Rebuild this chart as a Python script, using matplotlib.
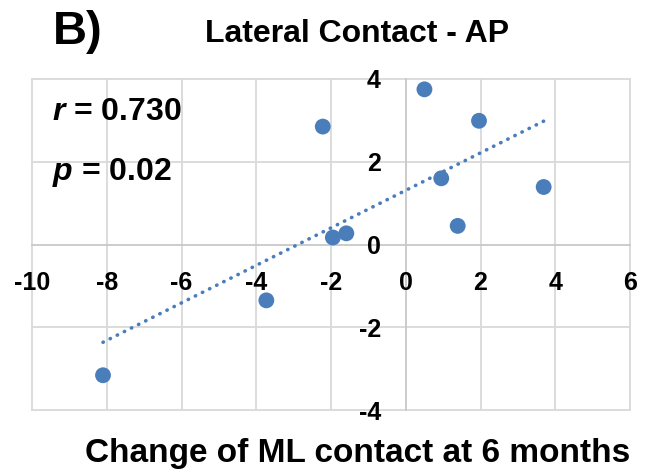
import matplotlib
matplotlib.use("Agg")
import matplotlib.pyplot as plt
import numpy as np

# Change of ML contact (x) vs lateral contact AP change (y)
ml_change = [-8.10, -3.73, -2.22, -1.95, -1.59, 0.50, 1.96, 0.95, 1.39, 3.69]
ap_change = [-3.16, -1.35, 2.85, 0.17, 0.27, 3.75, 2.99, 1.60, 0.45, 1.39]

x_ticks = [-10, -8, -6, -4, -2, 0, 2, 4, 6]
y_ticks = [-4, -2, 0, 2, 4]
stats = ["0.730", "0.02"]

plt.rcParams["font.family"] = ["Liberation Sans", "DejaVu Sans"]
plt.rcParams["mathtext.fontset"] = "custom"
plt.rcParams["mathtext.it"] = "Liberation Sans:bold:italic"
plt.rcParams["mathtext.rm"] = "Liberation Sans:bold"

blue = "#4a7ebb"
grid_col = "#d9d9d9"
axis_col = "#c8c8c8"

fig = plt.figure(figsize=(6.52, 4.75), dpi=100)
fig.patch.set_facecolor("white")
ax = fig.add_axes([32 / 652, 1 - 410 / 475, 598 / 652, 331 / 475])

ax.set_xlim(x_ticks[0], x_ticks[-1])
ax.set_ylim(y_ticks[0], y_ticks[-1])

# gridlines, including the outer border lines
for xv in x_ticks:
    if xv != 0:
        ax.axvline(xv, color=grid_col, lw=1.3, zorder=0, clip_on=False)
for yv in y_ticks:
    if yv != 0:
        ax.axhline(yv, color=grid_col, lw=1.3, zorder=0, clip_on=False)

for side in ["top", "right"]:
    ax.spines[side].set_visible(False)
ax.spines["left"].set_position(("data", 0))
ax.spines["bottom"].set_position(("data", 0))
for side in ["left", "bottom"]:
    ax.spines[side].set_color(axis_col)
    ax.spines[side].set_linewidth(1.3)
    ax.spines[side].set_zorder(0.5)

ax.set_xticks(x_ticks)
ax.set_yticks(y_ticks)
ax.tick_params(axis="both", length=0, labelsize=18)
ax.tick_params(axis="x", pad=19)
ax.tick_params(axis="y", pad=18)
ax.set_xticklabels([str(v) for v in x_ticks], fontweight="bold")
ax.set_yticklabels([str(v) for v in y_ticks], fontweight="bold")

# linear trendline over the data range
slope, intercept = np.polyfit(ml_change, ap_change, 1)
xs = np.array([min(ml_change), max(ml_change)])
ax.plot(xs, slope * xs + intercept, color=blue, lw=2.6,
        linestyle=(0, (0.1, 2.1)), dash_capstyle="round", zorder=2)

ax.scatter(ml_change, ap_change, s=130, color=blue, edgecolors="none", zorder=3)

ax.text(-9.47, 3.01, r"$r$ = " + stats[0], fontsize=23, fontweight="bold",
        ha="left", va="baseline")
ax.text(-9.47, 1.56, r"$p$ = " + stats[1], fontsize=23, fontweight="bold",
        ha="left", va="baseline")

fig.text(53 / 652, 1 - 44 / 475, "B)", fontsize=34, fontweight="bold",
         ha="left", va="baseline")
fig.text(357 / 652, 1 - 42 / 475, "Lateral Contact - AP", fontsize=23,
         fontweight="bold", ha="center", va="baseline")
fig.text(358 / 652, 1 - 462 / 475, "Change of ML contact at 6 months",
         fontsize=24, fontweight="bold", ha="center", va="baseline")

fig.savefig("out.png", dpi=100)
